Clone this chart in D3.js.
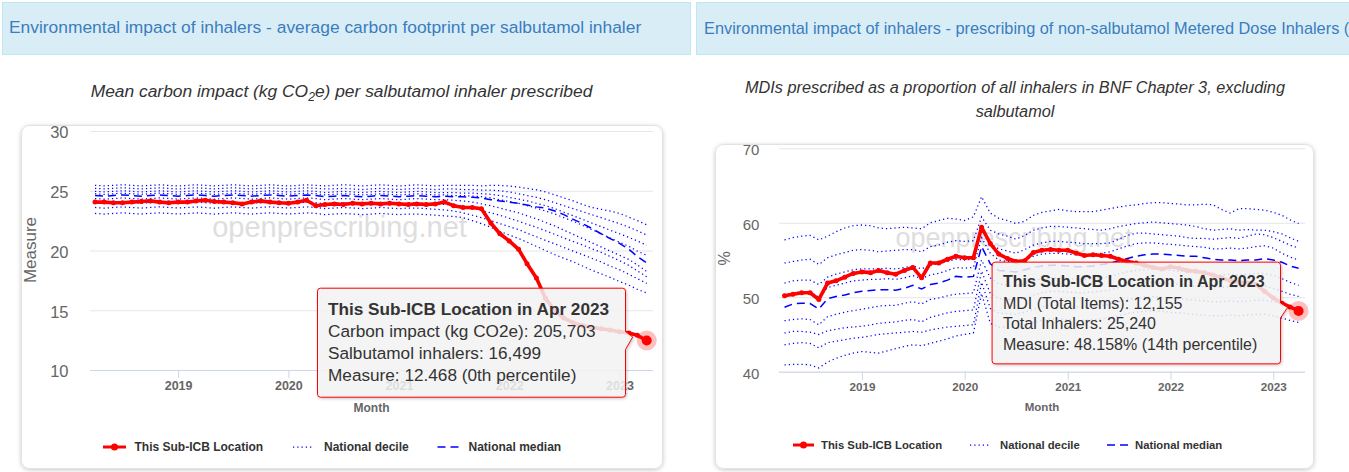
<!DOCTYPE html>
<html>
<head>
<meta charset="utf-8">
<script src="https://cdn.jsdelivr.net/npm/d3@7"></script>
<style>
    body { margin: 0; background: #fff; overflow: hidden; }
    svg { display: block; font-family: "Liberation Sans", Arial, sans-serif; }
</style>
</head>
<body>
<svg width="1349" height="472"></svg>
<script>
// data

let months = d3.timeMonth.range(new Date(2018, 3, 1), new Date(2023, 4, 1)); // Apr 2018 .. Apr 2023
let yearTicks = [2019, 2020, 2021, 2022, 2023];
let legendLabels = ['This Sub-ICB Location', 'National decile', 'National median'];

let carbonTicks = [10, 15, 20, 25, 30];
let mdiTicks = [40, 50, 60, 70];

let carbonTip = [
    'This Sub-ICB Location in Apr 2023',
    'Carbon impact (kg CO2e): 205,703',
    'Salbutamol inhalers: 16,499',
    'Measure: 12.468 (0th percentile)',
];
let mdiTip = [
    'This Sub-ICB Location in Apr 2023',
    'MDI (Total Items): 12,155',
    'Total Inhalers: 25,240',
    'Measure: 48.158% (14th percentile)',
];

// carbon impact per salbutamol inhaler (kg CO2e)
let carbonLocal = [
    24.05,24.05,24.0,24.0,24.05,24.1,24.15,24.05,24.0,24.05,
    24.05,24.15,24.2,24.1,24.05,24.0,23.9,24.05,24.15,24.05,
    24.0,23.95,24.05,24.2,23.75,23.85,23.9,23.85,23.95,23.9,
    23.95,23.9,23.95,23.9,23.85,23.9,23.85,23.9,24.05,23.75,
    23.6,23.6,23.5,22.3,21.4,20.8,20.1,18.9,17.7,16.0,
    14.95,14.35,13.95,13.7,13.55,13.45,13.35,13.2,13.1,12.9,
    12.468];
let carbonP90 = [
    25.45,25.4,25.45,25.5,25.45,25.4,25.45,25.5,25.45,25.4,
    25.45,25.5,25.45,25.4,25.45,25.5,25.45,25.4,25.45,25.5,
    25.45,25.4,25.45,25.5,25.45,25.4,25.45,25.5,25.45,25.4,
    25.45,25.5,25.45,25.4,25.45,25.5,25.45,25.4,25.45,25.45,
    25.45,25.45,25.4,25.45,25.45,25.4,25.3,25.2,25.08,24.9,
    24.65,24.4,24.15,23.85,23.6,23.45,23.3,23.1,22.8,22.5,
    22.15];
let carbonP80 = [
    25.2,25.15,25.2,25.25,25.2,25.15,25.2,25.25,25.2,25.15,
    25.2,25.25,25.2,25.15,25.2,25.25,25.2,25.15,25.2,25.25,
    25.2,25.15,25.2,25.25,25.2,25.15,25.15,25.2,25.15,25.1,
    25.15,25.2,25.15,25.1,25.15,25.2,25.15,25.1,25.15,25.15,
    25.1,25.1,25.05,25.05,25.0,24.9,24.75,24.6,24.45,24.25,
    24.0,23.75,23.5,23.25,23.0,22.75,22.5,22.25,21.95,21.65,
    21.3];
let carbonP70 = [
    24.95,24.9,24.95,25.0,24.95,24.9,24.95,25.0,24.95,24.9,
    24.95,25.0,24.95,24.9,24.95,25.0,24.95,24.9,24.95,25.0,
    24.95,24.9,24.95,25.0,24.95,24.85,24.9,24.95,24.9,24.85,
    24.9,24.95,24.9,24.85,24.9,24.95,24.9,24.85,24.85,24.85,
    24.8,24.8,24.75,24.7,24.6,24.45,24.3,24.15,23.95,23.75,
    23.5,23.2,22.9,22.6,22.3,22.0,21.7,21.4,21.1,20.8,
    20.45];
let carbonP60 = [
    24.75,24.7,24.75,24.8,24.75,24.7,24.75,24.8,24.75,24.7,
    24.75,24.8,24.75,24.7,24.75,24.8,24.75,24.7,24.75,24.8,
    24.75,24.7,24.75,24.8,24.75,24.65,24.7,24.75,24.7,24.65,
    24.7,24.75,24.7,24.65,24.7,24.75,24.7,24.65,24.65,24.6,
    24.6,24.55,24.5,24.4,24.25,24.1,23.95,23.75,23.55,23.3,
    23.05,22.75,22.45,22.1,21.75,21.4,21.05,20.7,20.35,19.95,
    19.6];
let carbonP50 = [
    24.6,24.55,24.6,24.65,24.6,24.55,24.6,24.65,24.6,24.55,
    24.6,24.65,24.6,24.55,24.6,24.65,24.6,24.55,24.6,24.65,
    24.6,24.55,24.6,24.65,24.6,24.5,24.55,24.6,24.55,24.5,
    24.55,24.6,24.55,24.5,24.55,24.6,24.55,24.5,24.55,24.5,
    24.5,24.45,24.4,24.25,24.15,24.05,23.95,23.8,23.65,23.55,
    23.3,23.0,22.6,22.25,21.85,21.4,21.0,20.6,20.1,19.5,
    18.95];
let carbonP40 = [
    24.35,24.3,24.35,24.4,24.35,24.3,24.35,24.4,24.35,24.3,
    24.35,24.4,24.35,24.3,24.35,24.4,24.35,24.3,24.35,24.4,
    24.35,24.3,24.35,24.4,24.35,24.25,24.3,24.35,24.3,24.25,
    24.3,24.35,24.3,24.25,24.3,24.35,24.3,24.25,24.25,24.2,
    24.15,24.05,23.9,23.75,23.55,23.35,23.15,22.9,22.65,22.35,
    22.05,21.7,21.35,21.0,20.65,20.3,19.95,19.6,19.25,18.8,
    18.25];
let carbonP30 = [
    24.0,23.95,24.0,24.05,24.0,23.95,24.0,24.05,24.0,23.95,
    24.0,24.05,24.0,23.95,24.0,24.05,24.0,23.95,24.0,24.05,
    24.0,23.95,24.0,24.05,24.0,23.9,23.95,24.0,23.95,23.9,
    23.95,24.0,23.95,23.9,23.95,24.0,23.95,23.9,23.85,23.8,
    23.7,23.55,23.35,23.15,22.95,22.7,22.45,22.2,21.95,21.65,
    21.35,21.05,20.75,20.45,20.15,19.85,19.5,19.15,18.75,18.3,
    17.8];
let carbonP20 = [
    23.6,23.55,23.6,23.65,23.6,23.55,23.6,23.65,23.6,23.55,
    23.6,23.65,23.6,23.55,23.6,23.65,23.6,23.55,23.6,23.65,
    23.6,23.55,23.6,23.65,23.6,23.5,23.55,23.6,23.55,23.5,
    23.55,23.6,23.55,23.5,23.55,23.55,23.5,23.45,23.4,23.3,
    23.15,22.95,22.75,22.5,22.25,22.0,21.75,21.45,21.15,20.85,
    20.55,20.25,19.95,19.65,19.35,19.05,18.7,18.4,18.0,17.65,
    17.25];
let carbonP10 = [
    23.1,23.05,23.1,23.15,23.1,23.05,23.1,23.15,23.1,23.05,
    23.1,23.15,23.1,23.05,23.1,23.15,23.1,23.05,23.1,23.15,
    23.1,23.05,23.1,23.15,23.1,23.0,23.05,23.1,23.05,23.0,
    23.05,23.1,23.05,23.0,23.05,23.05,23.0,22.95,22.9,22.85,
    22.75,22.5,22.25,21.95,21.6,21.3,21.0,20.7,20.35,20.0,
    19.65,19.35,19.05,18.7,18.35,18.05,17.75,17.4,17.1,16.75,
    16.45];

// MDIs as % of inhalers, excluding salbutamol
let mdiLocal = [
    50.2,50.4,50.6,50.6,49.7,51.9,52.2,52.7,53.2,53.4,
    53.3,53.6,53.3,53.1,53.6,54.0,52.6,54.6,54.6,55.1,
    55.5,55.3,55.3,59.4,57.2,55.8,55.2,54.8,54.9,56.0,
    56.3,56.4,56.3,56.3,55.9,55.6,55.7,55.6,55.5,55.1,
    54.8,54.6,54.3,54.0,53.8,54.1,53.9,53.6,53.5,53.3,
    53.0,52.6,52.2,52.0,51.9,51.7,50.8,49.9,49.2,48.7,
    48.158];
let mdiP90 = [
    57.7,58.0,58.2,58.3,57.7,58.2,58.8,59.3,59.6,59.7,
    59.6,59.3,59.2,59.3,59.4,59.3,59.2,60.0,60.3,60.6,
    60.5,60.3,60.8,63.5,61.3,60.6,60.3,59.9,60.2,61.0,
    61.4,61.6,61.8,61.6,61.5,61.5,61.5,61.7,61.9,62.1,
    62.3,62.4,62.6,62.7,62.7,62.6,62.5,62.4,62.4,62.5,
    62.4,61.8,61.3,61.9,61.9,61.8,61.7,61.4,61.0,60.4,
    59.9];
let mdiP80 = [
    54.6,54.8,55.0,55.1,54.4,55.3,55.7,56.0,56.3,56.4,
    56.3,56.1,56.2,56.3,56.4,56.4,56.1,56.8,57.0,57.4,
    57.6,57.5,57.6,60.8,59.0,58.5,58.2,57.8,58.3,59.0,
    59.3,59.5,59.5,59.4,59.3,59.2,59.1,59.0,59.2,59.5,
    59.7,59.9,60.0,60.1,60.0,59.9,59.8,59.7,59.5,59.2,
    59.0,59.1,59.2,59.0,59.1,59.0,59.0,58.8,58.5,58.0,
    57.5];
let mdiP70 = [
    51.9,52.2,52.3,52.3,51.7,52.7,53.1,53.4,53.7,53.8,
    53.8,53.8,53.9,53.8,54.0,54.2,53.8,54.3,54.5,54.8,
    55.1,55.0,55.1,59.0,57.2,56.5,56.2,55.9,56.4,57.0,
    57.3,57.5,57.5,57.4,57.3,57.2,57.2,57.2,57.3,57.8,
    58.3,58.6,58.6,58.5,58.4,58.3,58.2,58.0,57.9,57.9,
    57.8,57.9,58.0,57.9,58.2,58.5,58.4,58.0,57.5,57.0,
    56.6];
let mdiP60 = [
    50.3,50.6,50.7,50.7,50.0,51.3,51.6,51.9,52.2,52.3,
    52.4,52.4,52.5,52.4,52.6,52.9,52.5,53.0,53.2,53.6,
    54.0,53.9,54.0,58.0,55.9,55.0,54.8,54.7,55.1,55.5,
    55.8,55.9,55.9,55.8,55.7,55.7,55.8,55.9,56.1,56.5,
    56.9,57.2,57.3,57.3,57.2,57.1,57.0,56.9,56.8,56.7,
    56.5,56.5,56.6,56.5,56.6,56.8,56.9,56.6,55.9,55.4,
    55.0];
let mdiP50 = [
    48.65,49.1,49.2,49.15,48.4,49.8,50.1,50.3,50.6,50.8,
    50.9,51.0,51.0,50.95,51.2,51.6,51.1,51.7,51.9,52.3,
    52.8,52.7,52.8,56.8,54.5,53.6,53.5,53.4,53.7,54.0,
    54.2,54.3,54.3,54.2,54.1,54.1,54.2,54.4,54.6,54.9,
    55.2,55.5,55.7,55.8,55.8,55.7,55.6,55.5,55.5,55.3,
    55.1,55.0,55.0,54.9,55.0,55.0,55.2,55.0,54.7,54.2,
    53.9];
let mdiP40 = [
    46.85,47.0,47.1,47.0,46.3,47.4,47.7,48.0,48.2,48.4,
    48.6,48.8,48.9,48.9,49.2,49.4,49.1,49.7,49.9,50.2,
    50.4,50.5,50.6,55.0,52.6,51.8,51.6,51.5,51.8,52.2,
    52.5,52.6,52.6,52.5,52.4,52.4,52.5,52.6,52.8,53.1,
    53.4,53.6,53.7,53.8,53.7,53.6,53.5,53.4,53.3,53.2,
    53.0,53.0,53.1,53.0,53.1,53.2,53.2,52.9,52.5,52.0,
    51.6];
let mdiP30 = [
    45.2,45.4,45.4,45.3,45.0,45.5,45.7,45.9,46.0,46.1,
    46.3,46.5,46.6,46.7,46.9,47.0,46.7,47.3,47.6,47.9,
    48.1,48.2,48.3,53.5,50.5,49.8,49.7,49.6,49.9,50.3,
    50.6,50.8,50.8,50.7,50.6,50.6,50.7,50.8,51.0,51.3,
    51.6,51.8,51.9,52.0,51.9,51.8,51.7,51.6,51.5,51.4,
    51.3,51.3,51.4,51.3,51.4,51.5,51.5,51.2,50.8,50.4,
    50.1];
let mdiP20 = [
    43.6,43.8,43.9,43.8,43.2,43.9,44.1,44.3,44.5,44.6,
    44.8,45.0,45.1,45.2,45.3,45.4,45.3,45.6,45.8,46.0,
    46.1,46.2,46.3,52.0,48.5,47.9,47.8,47.7,48.0,48.4,
    48.7,48.9,48.9,48.8,48.7,48.7,48.8,48.9,49.1,49.4,
    49.7,49.9,50.0,50.1,50.0,49.9,49.8,49.7,49.6,49.5,
    49.4,49.4,49.5,49.4,49.5,49.6,49.6,49.4,49.1,48.8,
    48.6];
let mdiP10 = [
    40.9,41.0,41.0,40.9,40.5,41.3,41.8,42.2,42.5,42.7,
    42.6,42.5,42.8,43.1,43.4,43.6,43.5,43.8,44.1,44.4,
    44.8,45.0,45.2,50.5,46.5,46.0,46.0,45.9,46.2,46.6,
    46.9,47.1,47.1,47.0,46.9,46.9,47.0,47.1,47.3,47.5,
    47.8,48.0,48.1,48.2,48.1,48.0,47.9,47.8,47.7,47.6,
    47.5,47.5,47.6,47.5,47.6,47.7,47.7,47.5,47.2,46.9,
    46.6];

// panel layouts

let panels = [
    {
        title: 'Environmental impact of inhalers - average carbon footprint per salbutamol inhaler',
        subtitle: [['Mean carbon impact (kg CO', {sub: '2'}, 'e) per salbutamol inhaler prescribed']],
        head: {x: 2, w: 688, tx: 9, base: 33.3, size: 17.4},
        sub: {cx: 341.5, base: 96.7, size: 17.4, lh: 24},
        card: {x: 21, y: 125, w: 641, h: 343},
        plot: {x0: 90, x1: 653, top: 131, bottom: 370},
        xRange: [95, 646.7],
        yDomain: [10, 30], yTicks: carbonTicks,
        yLabel: {size: 16.5, pad: 21.5},
        yTitle: {text: 'Measure', x: 36, y: 250, size: 17},
        xLabelSize: 12.5,
        month: {base: 411.5, size: 12},
        watermark: {cx: 339.5, base: 236.7, size: 29},
        legend: {y: 447, size: 12, items: [[103, 126, 134.5], [293, 314, 324], [437.5, 461, 468.5]]},
        local: carbonLocal,
        deciles: [carbonP10, carbonP20, carbonP30, carbonP40, carbonP50, carbonP60, carbonP70, carbonP80, carbonP90],
        tip: {lines: carbonTip, size: 17.2, dx: 21.7, top: 52.8, bottom: 56.2, w: 308, pad: 11,
              bases: [27.3, 49.3, 71.3, 93], n0: -9, n1: 9, tx: -14, ty: -3.5},
    },
    {
        title: 'Environmental impact of inhalers - prescribing of non-salbutamol Metered Dose Inhalers (MDIs)',
        subtitle: [['MDIs prescribed as a proportion of all inhalers in BNF Chapter 3, excluding'], ['salbutamol']],
        head: {x: 696, w: 670, tx: 704, base: 34, size: 16.33},
        sub: {cx: 1015, base: 92.5, size: 16.3, lh: 24},
        card: {x: 715, y: 144, w: 598, h: 324},
        plot: {x0: 779, x1: 1305, top: 148.3, bottom: 371.7},
        xRange: [784.5, 1298.6],
        yDomain: [40, 70], yTicks: mdiTicks,
        yLabel: {size: 15, pad: 19.7},
        yTitle: {text: '%', x: 730, y: 258.3, size: 16},
        xLabelSize: 11.7,
        month: {base: 411, size: 11.5},
        watermark: {cx: 1014, base: 246.7, size: 27},
        legend: {y: 445, size: 11.3, items: [[793, 814, 821], [970, 989, 1000], [1107, 1129, 1135]]},
        local: mdiLocal,
        deciles: [mdiP10, mdiP20, mdiP30, mdiP40, mdiP50, mdiP60, mdiP70, mdiP80, mdiP90],
        tip: {lines: mdiTip, size: 16, dx: 18.6, top: 49.3, bottom: 52.4, w: 288.4, pad: 11.3,
              bases: [25, 47.3, 67.3, 88.3], n0: -8, n1: 7, tx: -11, ty: -3.5},
    },
];

let svg = d3.select('svg');
let defs = svg.append('defs');

defs.append('filter')
    .attr('id', 'cardShadow')
    .attr('x', '-5%').attr('y', '-5%')
    .attr('width', '110%').attr('height', '110%')
    .append('feDropShadow')
    .attr('dx', 0).attr('dy', 1)
    .attr('stdDeviation', 2)
    .attr('flood-color', '#000')
    .attr('flood-opacity', 0.22);

defs.append('filter')
    .attr('id', 'tipShadow')
    .attr('x', '-5%').attr('y', '-5%')
    .attr('width', '115%').attr('height', '115%')
    .append('feDropShadow')
    .attr('dx', 1).attr('dy', 1)
    .attr('stdDeviation', 1.5)
    .attr('flood-color', '#000')
    .attr('flood-opacity', 0.25);

// tooltip box with a callout on the right side
function tipPath(bx, by, w, h, r, tipX, tipY, n0, n1) {
    let p = d3.path();
    p.moveTo(bx + r, by);
    p.lineTo(bx + w - r, by);
    p.arcTo(bx + w, by, bx + w, by + r, r);
    p.lineTo(bx + w, n0);
    p.lineTo(tipX, tipY);
    p.lineTo(bx + w, n1);
    p.lineTo(bx + w, by + h - r);
    p.arcTo(bx + w, by + h, bx + w - r, by + h, r);
    p.lineTo(bx + r, by + h);
    p.arcTo(bx, by + h, bx, by + h - r, r);
    p.lineTo(bx, by + r);
    p.arcTo(bx, by, bx + r, by, r);
    p.closePath();
    return p.toString();
}

function drawPanel(p) {
    let g = svg.append('g');

    // heading
    g.append('rect')
        .attr('x', p.head.x + 0.5)
        .attr('y', 2.5)
        .attr('width', p.head.w)
        .attr('height', 52)
        .attr('fill', '#d9edf7')
        .attr('stroke', '#bce8f1');
    g.append('text')
        .attr('x', p.head.tx)
        .attr('y', p.head.base)
        .attr('fill', '#3b7dbd')
        .style('font-size', p.head.size + 'px')
        .text(p.title);

    // subtitle
    p.subtitle.forEach((line, li) => {
        let t = g.append('text')
            .attr('x', p.sub.cx)
            .attr('y', p.sub.base + li * p.sub.lh)
            .attr('text-anchor', 'middle')
            .attr('fill', '#333')
            .style('font-size', p.sub.size + 'px')
            .style('font-style', 'italic');
        let shifted = false;
        line.forEach(seg => {
            if (typeof seg == 'string') {
                t.append('tspan').attr('dy', shifted ? -4 : 0).text(seg);
                shifted = false;
            }
            else {
                t.append('tspan').attr('dy', 4).style('font-size', '0.7em').text(seg.sub);
                shifted = true;
            }
        });
    });

    // card
    g.append('rect')
        .attr('x', p.card.x + 0.5)
        .attr('y', p.card.y + 0.5)
        .attr('width', p.card.w)
        .attr('height', p.card.h)
        .attr('rx', 8)
        .attr('fill', '#fff')
        .attr('stroke', '#e2e2e2')
        .attr('filter', 'url(#cardShadow)');

    let x = d3.scaleTime()
        .domain([months[0], months[months.length - 1]])
        .range(p.xRange);
    let y = d3.scaleLinear()
        .domain(p.yDomain)
        .range([p.plot.bottom, p.plot.top]);

    // watermark
    g.append('text')
        .attr('x', p.watermark.cx)
        .attr('y', p.watermark.base)
        .attr('text-anchor', 'middle')
        .attr('fill', '#dedede')
        .style('font-size', p.watermark.size + 'px')
        .text('openprescribing.net');

    // y axis + grid
    let yAxis = g.append('g')
        .attr('transform', `translate(${p.plot.x0},0)`)
        .call(d3.axisLeft(y)
            .tickValues(p.yTicks)
            .tickSize(-(p.plot.x1 - p.plot.x0))
            .tickPadding(p.yLabel.pad));
    yAxis.select('.domain').remove();
    yAxis.selectAll('line').attr('stroke', '#e6e6e6');
    yAxis.selectAll('text')
        .attr('fill', '#666')
        .attr('dy', '0.42em')
        .style('font-size', p.yLabel.size + 'px');

    // x axis
    let xAxis = g.append('g')
        .attr('transform', `translate(0,${p.plot.bottom})`)
        .call(d3.axisBottom(x)
            .tickValues(yearTicks.map(yr => new Date(yr, 0, 1)))
            .tickFormat(d3.timeFormat('%Y'))
            .tickSize(8)
            .tickPadding(3));
    xAxis.select('.domain').remove();
    xAxis.selectAll('line').attr('stroke', '#ccd6eb');
    xAxis.selectAll('text')
        .attr('fill', '#666')
        .style('font-size', p.xLabelSize + 'px')
        .style('font-weight', 'bold');
    g.append('line')
        .attr('x1', p.plot.x0)
        .attr('x2', p.plot.x1)
        .attr('y1', p.plot.bottom + 0.5)
        .attr('y2', p.plot.bottom + 0.5)
        .attr('stroke', '#ccd6eb');

    // axis titles
    g.append('text')
        .attr('transform', `translate(${p.yTitle.x},${p.yTitle.y}) rotate(-90)`)
        .attr('text-anchor', 'middle')
        .attr('fill', '#666')
        .style('font-size', p.yTitle.size + 'px')
        .text(p.yTitle.text);
    g.append('text')
        .attr('x', (p.plot.x0 + p.plot.x1) / 2)
        .attr('y', p.month.base)
        .attr('text-anchor', 'middle')
        .attr('fill', '#666')
        .style('font-size', p.month.size + 'px')
        .style('font-weight', 'bold')
        .text('Month');

    // series
    let line = d3.line()
        .x((d, i) => x(months[i]))
        .y(d => y(d));

    g.selectAll('.decile')
        .data(p.deciles.filter((d, i) => i != 4))
        .enter()
        .append('path')
        .classed('decile', 1)
        .attr('d', line)
        .attr('fill', 'none')
        .attr('stroke', 'blue')
        .attr('stroke-width', 1.25)
        .attr('stroke-dasharray', '1.25,3');

    g.append('path')
        .attr('d', line(p.deciles[4]))
        .attr('fill', 'none')
        .attr('stroke', 'blue')
        .attr('stroke-width', 1.5)
        .attr('stroke-dasharray', '8,5');

    g.append('path')
        .attr('d', line(p.local))
        .attr('fill', 'none')
        .attr('stroke', 'red')
        .attr('stroke-width', 3.6)
        .attr('stroke-linejoin', 'round');

    g.selectAll('.marker')
        .data(p.local)
        .enter()
        .append('circle')
        .classed('marker', 1)
        .attr('cx', (d, i) => x(months[i]))
        .attr('cy', d => y(d))
        .attr('r', 2.5)
        .attr('fill', 'red');

    // hovered point
    let last = p.local.length - 1;
    let px = x(months[last]);
    let py = y(p.local[last]);
    g.append('circle')
        .attr('cx', px).attr('cy', py)
        .attr('r', 10)
        .attr('fill', 'red')
        .attr('fill-opacity', 0.25);
    g.append('circle')
        .attr('cx', px).attr('cy', py)
        .attr('r', 5)
        .attr('fill', 'red');

    // legend
    let lg = g.append('g');
    let [red, dot, dash] = p.legend.items;
    lg.append('line')
        .attr('x1', red[0]).attr('x2', red[1])
        .attr('y1', p.legend.y).attr('y2', p.legend.y)
        .attr('stroke', 'red').attr('stroke-width', 3);
    lg.append('circle')
        .attr('cx', (red[0] + red[1]) / 2).attr('cy', p.legend.y)
        .attr('r', 3.5).attr('fill', 'red');
    lg.append('line')
        .attr('x1', dot[0]).attr('x2', dot[1])
        .attr('y1', p.legend.y).attr('y2', p.legend.y)
        .attr('stroke', 'blue').attr('stroke-width', 1.25)
        .attr('stroke-dasharray', '1.25,3');
    lg.append('line')
        .attr('x1', dash[0]).attr('x2', dash[1])
        .attr('y1', p.legend.y).attr('y2', p.legend.y)
        .attr('stroke', 'blue').attr('stroke-width', 1.5)
        .attr('stroke-dasharray', '8,5');
    lg.selectAll('text')
        .data(legendLabels)
        .enter()
        .append('text')
        .attr('x', (d, i) => p.legend.items[i][2])
        .attr('y', p.legend.y + p.legend.size * 0.36)
        .attr('fill', '#333')
        .style('font-size', p.legend.size + 'px')
        .style('font-weight', 'bold')
        .text(d => d);

    // tooltip
    let t = p.tip;
    let bx = px - t.dx - t.w;
    let by = py - t.top;
    let tg = g.append('g');
    tg.append('path')
        .attr('d', tipPath(bx + 0.5, by + 0.5, t.w, t.top + t.bottom, 3,
            px + t.tx, py + t.ty, py + t.n0, py + t.n1))
        .attr('fill', '#f7f7f7')
        .attr('fill-opacity', 0.82)
        .attr('stroke', 'red')
        .attr('stroke-width', 1)
        .attr('filter', 'url(#tipShadow)');
    tg.selectAll('text')
        .data(t.lines)
        .enter()
        .append('text')
        .attr('x', bx + t.pad)
        .attr('y', (d, i) => by + t.bases[i])
        .attr('fill', '#333')
        .style('font-size', t.size + 'px')
        .style('font-weight', (d, i) => i == 0 ? 'bold' : null)
        .text(d => d);
}

panels.forEach(drawPanel);
</script>
</body>
</html>
